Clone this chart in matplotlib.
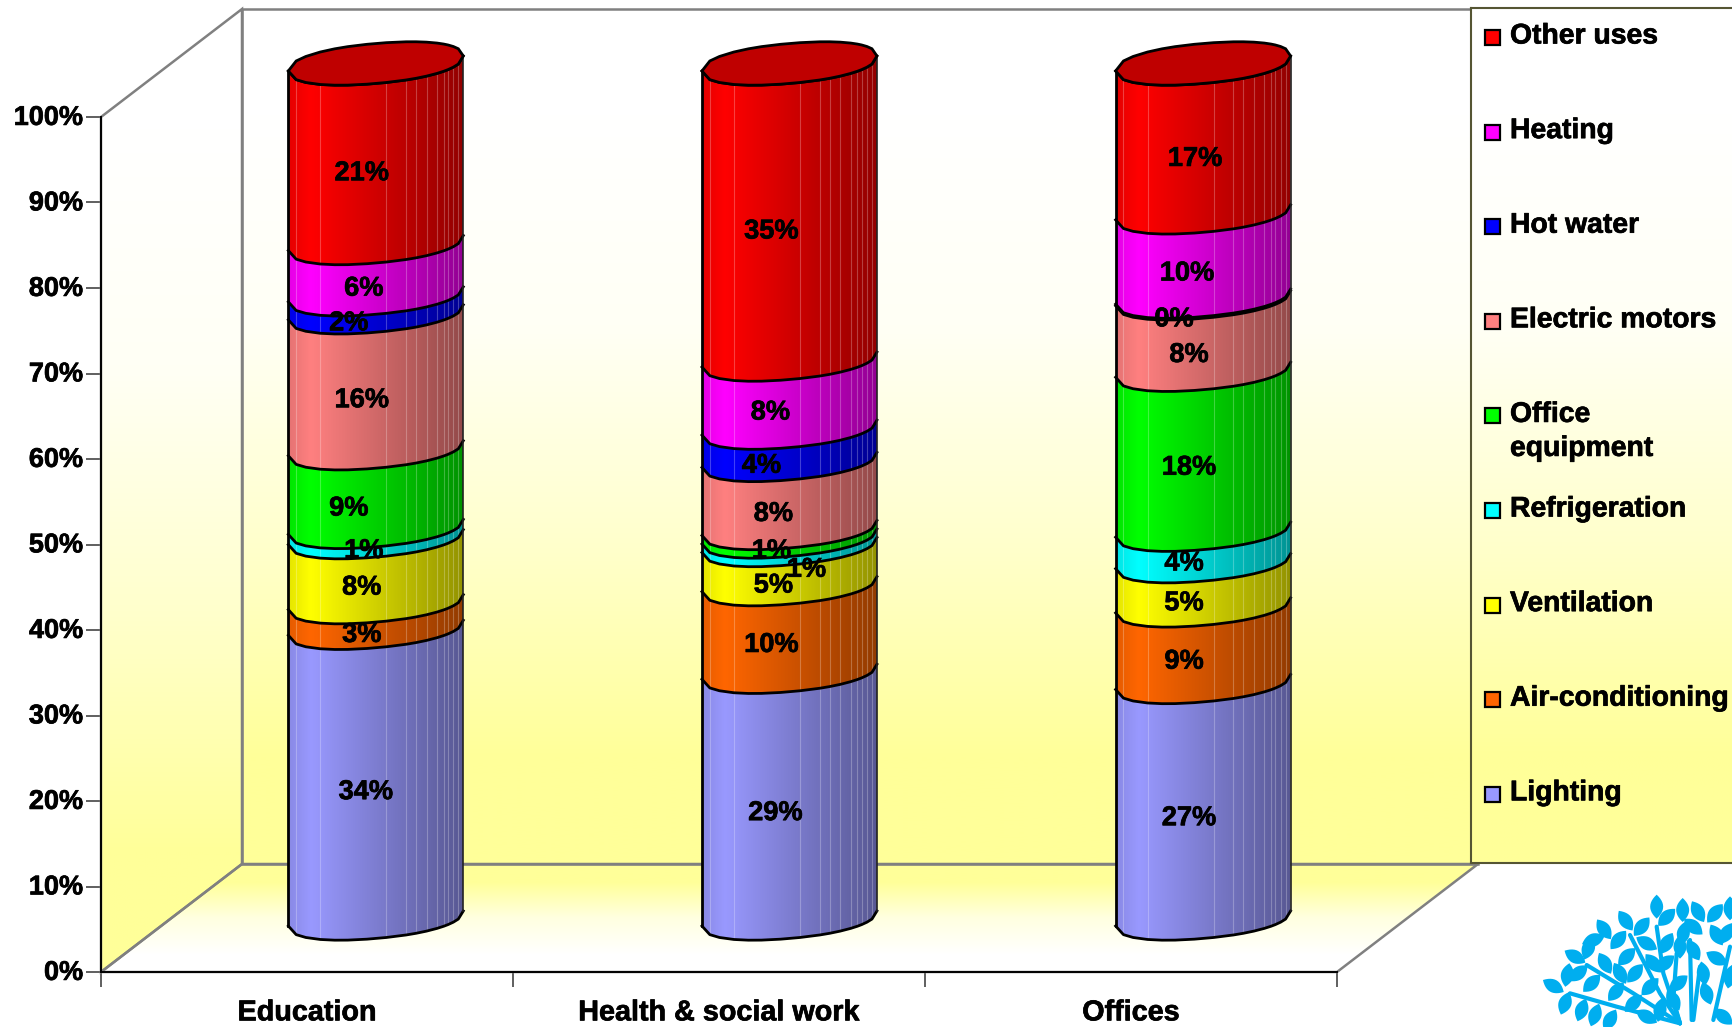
import numpy as np
import matplotlib
matplotlib.use("Agg")
import matplotlib.pyplot as plt
import matplotlib.patheffects as pe
from matplotlib.colors import to_rgb
from matplotlib.patches import Polygon, Rectangle
from matplotlib.transforms import ScaledTranslation

plt.rcParams["font.family"] = ["Liberation Sans", "DejaVu Sans"]
plt.rcParams["font.weight"] = "bold"

categories = ["Education", "Health & social work", "Offices"]
series = ["Lighting", "Air-conditioning", "Ventilation", "Refrigeration", "Office\nequipment",
          "Electric motors", "Hot water", "Heating", "Other uses"]
colors = ["#9999FF", "#FF6600", "#FFFF00", "#00FFFF", "#00FF00", "#FF8080", "#0000FF", "#FF00FF", "#FF0000"]

education = [34.0, 3.0, 7.6, 1.2, 9.2, 15.9, 2.1, 6.0, 21.0]
health = [29.0, 10.3, 4.6, 1.0, 1.0, 8.0, 3.8, 8.0, 34.8]
offices = [27.8, 9.0, 5.2, 3.7, 18.8, 8.4, 0.2, 9.9, 17.5]
education_labels = ["34%", "3%", "8%", "1%", "9%", "16%", "2%", "6%", "21%"]
health_labels = ["29%", "10%", "5%", "1%", "1%", "8%", "4%", "8%", "35%"]
offices_labels = ["27%", "9%", "5%", "4%", "18%", "8%", "0%", "10%", "17%"]
y_ticks = [0, 10, 20, 30, 40, 50, 60, 70, 80, 90, 100]

# label nudges in pixels, the original chart had them dragged by hand
label_dx = [[-10, -14, -14, -12, -27, -14, -27, -12, -14],
            [-14, -18, -16, 17, -18, -16, -28, -19, -18],
            [-14, -19, -19, -19, -14, -14, -29, -16, -8]]
label_dy = [[19, 20, 18, 19, 21, 20, 20, 20, 20],
            [18, 17, 21, 29, 19, 20, 22, 19, 20],
            [18, 18, 20, 18, 18, 21, 22, 19, 21]]

W, H = 1733, 1027
PX_X = 412.0  # pixels per category
PX_Y = 8.55  # pixels per percent
DEPTH_X = 141 / PX_X
DEPTH_Y = 108 / PX_Y
BAR_X = [0.667, 1.671, 2.675]
BAR_Y0 = 6.26
BAR_A = 87.5 / PX_X
BAR_C = 7.5 / PX_Y
BAR_D = 20 / PX_Y
ROUNDNESS = 2.2
OUTLINE = np.array([-1, -0.91, -0.8, -0.635, -0.47, -0.32, -0.1, 0.12, 0.346, 0.46, 0.58, 0.70,
                    0.776, 0.825, 0.886, 0.943, 1])
FACETS = np.array([-0.91, -0.635, 0.12, 0.346, 0.46, 0.58, 0.70, 0.776, 0.825, 0.886, 0.943])
PALE = np.array(to_rgb("#FFFFFF"))
YELLOW = np.array(to_rgb("#FFFF99"))
HEAVY = [pe.withStroke(linewidth=0.5, foreground="black")]

fig = plt.figure(figsize=(W / 100, H / 100), dpi=100, facecolor="white")
ax = fig.add_axes([101 / W, (H - 972) / H, 1236 / W, 855 / H], facecolor="none")


def gradient_fill(target, points, stops, horizontal=False, zorder=1):
    # stops run bottom to top (or left to right), clipped to the polygon
    points = np.array(points)
    stops = np.array(stops)
    img = stops[None, :, :] if horizontal else stops[:, None, :]
    im = target.imshow(img, origin="lower", aspect="auto", interpolation="bilinear", zorder=zorder,
                       extent=(points[:, 0].min(), points[:, 0].max(), points[:, 1].min(), points[:, 1].max()))
    patch = Polygon(points, closed=True, transform=target.transData, facecolor="none", edgecolor="none")
    im.set_clip_box(fig.bbox)
    im.set_clip_path(patch)


# walls and floor
wall_stops = [YELLOW, YELLOW * 0.5 + PALE * 0.5, PALE * 0.9 + YELLOW * 0.1, PALE]
back = [(DEPTH_X, DEPTH_Y), (3 + DEPTH_X, DEPTH_Y), (3 + DEPTH_X, 100 + DEPTH_Y), (DEPTH_X, 100 + DEPTH_Y)]
left = [(0, 0), (DEPTH_X, DEPTH_Y), (DEPTH_X, 100 + DEPTH_Y), (0, 100)]
floor = [(0, 0), (3, 0), (3 + DEPTH_X, DEPTH_Y), (DEPTH_X, DEPTH_Y)]
gradient_fill(ax, back, wall_stops)
gradient_fill(ax, left, wall_stops)
gradient_fill(ax, floor, [PALE, PALE * 0.7 + YELLOW * 0.3, YELLOW])
for shape in (back, left, floor):
    ax.add_patch(Polygon(shape, closed=True, facecolor="none", edgecolor="#808080", linewidth=1.8,
                         zorder=2, clip_on=False))


def bulge(f):
    return BAR_D * (1 - np.abs(f) ** ROUNDNESS) ** (1 / ROUNDNESS)


def front_curve(cx, y, f=OUTLINE):
    return cx + BAR_A * f, y + BAR_C * f - bulge(f)


def shade(color):
    base = np.array(to_rgb(color))
    f = np.linspace(-1, 1, 64)
    level = np.interp(f, [-1, -0.75, 1], [0.9, 1.0, 0.58])
    return base * level[:, None]


for cx, values, labels, dxs, dys in zip(BAR_X, [education, health, offices],
                                        [education_labels, health_labels, offices_labels],
                                        label_dx, label_dy):
    vals = np.array(values) / sum(values) * 100
    tops = np.cumsum(vals)
    bottoms = tops - vals
    x0, y_first = front_curve(cx, BAR_Y0)
    for i, (b, t) in enumerate(zip(bottoms, tops)):
        xs, yb = front_curve(cx, BAR_Y0 + b)
        _, yt = front_curve(cx, BAR_Y0 + t)
        outline = list(zip(xs, yt)) + list(zip(xs[::-1], yb[::-1]))
        gradient_fill(ax, outline, shade(colors[i]), horizontal=True, zorder=3)
        ax.plot(xs, yt, color="black", linewidth=2, zorder=5, clip_on=False)
    xs, y_top = front_curve(cx, BAR_Y0 + 100)
    # thin facet lines of the cylinder
    x_line, y_low = front_curve(cx, BAR_Y0, FACETS)
    _, y_high = front_curve(cx, BAR_Y0 + 100, FACETS)
    ax.vlines(x_line, y_low, y_high, color="white", alpha=0.25, linewidth=0.8, zorder=4, clip_on=False)
    ax.plot(x0, y_first, color="black", linewidth=2, zorder=5, clip_on=False)
    ax.plot([xs[0], xs[0]], [y_first[0], y_top[0]], color="black", linewidth=2, zorder=5, clip_on=False)
    ax.plot([xs[-1], xs[-1]], [y_first[-1], y_top[-1]], color="#222222", linewidth=1.2, zorder=5, clip_on=False)
    # the lid
    lid_back = BAR_Y0 + 100 + BAR_C * OUTLINE + bulge(OUTLINE)
    lid = list(zip(xs, y_top)) + list(zip(xs[::-1], lid_back[::-1]))
    ax.add_patch(Polygon(lid, closed=True, facecolor="#BF0000", edgecolor="black", linewidth=2,
                         zorder=6, clip_on=False))
    for b, t, text, dx, dy in zip(bottoms, tops, labels, dxs, dys):
        ax.annotate(text, (cx, BAR_Y0 + (b + t) / 2), xytext=(dx, -dy), textcoords="offset pixels",
                    ha="center", va="center", fontsize=19.6, fontweight="bold", color="black", zorder=7,
                    annotation_clip=False, path_effects=HEAVY)

ax.set_xlim(0, 3)
ax.set_ylim(0, 100)
for side in ("top", "right"):
    ax.spines[side].set_visible(False)
ax.spines["left"].set_linewidth(1.4)
ax.spines["bottom"].set_linewidth(1.4)
ax.spines["left"].set_zorder(2)
ax.spines["bottom"].set_zorder(2)
ax.set_yticks(y_ticks)
ax.set_yticklabels([f"{v}%" for v in y_ticks], fontsize=19.5, fontweight="bold", path_effects=HEAVY)
ax.tick_params(axis="y", length=10.8, width=1.2, pad=2, color="#444444")
for tick_label in ax.get_yticklabels():
    tick_label.set_transform(tick_label.get_transform() + ScaledTranslation(0, 1.5 / 72, fig.dpi_scale_trans))
ax.set_xticks([0, 1, 2, 3])
ax.set_xticklabels([])
ax.tick_params(axis="x", which="major", length=10.8, width=1.2, color="#444444")
ax.set_xticks([0.5, 1.5, 2.5], minor=True)
ax.set_xticklabels(categories, minor=True, fontsize=20.7, fontweight="bold", path_effects=HEAVY)
ax.tick_params(axis="x", which="minor", length=0, pad=19)

# legend box, laid out in pixels
leg = fig.add_axes([1471 / W, (H - 863) / H, (W - 1471) / W, 855 / H], facecolor="none")
gradient_fill(leg, [(0, 855), (262, 855), (262, 0), (0, 0)], wall_stops[::-1])
leg.set_xlim(0, 262)
leg.set_ylim(855, 0)
leg.set_xticks([])
leg.set_yticks([])
for side in ("top", "bottom", "left"):
    leg.spines[side].set_color("#555533")
    leg.spines[side].set_linewidth(1.5)
leg.spines["right"].set_visible(False)
for row, (name, color) in enumerate(zip(series[::-1], colors[::-1])):
    y_row = 29.5 + 94.6 * row
    leg.add_patch(Rectangle((14, y_row - 7.5), 15, 15, facecolor=color, edgecolor="black", linewidth=1.6))
    leg.text(39, y_row - 14, name, ha="left", va="top", fontsize=20.4, fontweight="bold",
             linespacing=1.4, color="black", path_effects=HEAVY)

# tree logo in the corner
tree = fig.add_axes([0, 0, 1, 1], facecolor="none")
tree.set_xlim(0, W)
tree.set_ylim(H, 0)
tree.axis("off")
BLUE = "#00AEEF"
leaves = [(590, 440, 90), (620, 472, 135), (668, 450, 90), (714, 455, 60), (765, 460, 130), (810, 445, 90),
          (497, 482, 55), (545, 500, 130), (432, 508, 55), (475, 540, 130), (345, 590, 30), (385, 565, 110),
          (280, 678, 30), (322, 645, 100), (355, 640, 140), (435, 610, 60), (500, 590, 135), (525, 640, 130),
          (395, 670, 135), (468, 695, 130), (315, 730, 110), (365, 750, 110), (405, 765, 110), (450, 780, 120),
          (520, 730, 135), (570, 680, 135), (655, 670, 140), (615, 610, 140), (560, 550, 30), (700, 570, 60),
          (770, 525, 60), (770, 595, 30), (740, 700, 70), (810, 650, 100), (620, 550, 120), (670, 520, 100),
          (700, 500, 40), (580, 610, 50), (640, 720, 60), (800, 520, 120), (560, 770, 30), (790, 770, 40),
          (400, 540, 160), (660, 560, 90), (730, 640, 80), (600, 750, 100), (480, 640, 60)]
branches = [[(330, 700), (470, 740), (660, 790)], [(380, 615), (520, 700), (660, 790)],
            [(510, 525), (600, 700), (660, 790)], [(590, 500), (610, 640), (660, 790)],
            [(650, 580), (640, 720), (660, 790)], [(690, 540), (695, 780)], [(810, 560), (760, 780)],
            [(720, 620), (700, 780)]]


def logo(x, y):
    return 1460 + x / 3, 760 + y / 3


t = np.linspace(-1, 1, 13)
for x, y, angle in leaves:
    # pointed leaf shape
    a = np.radians(angle)
    half = 12 * t
    side = 6.5 * (1 - t ** 2)
    px = np.r_[half, half[::-1]]
    py = np.r_[side, -side[::-1]]
    cx, cy = logo(x, y)
    tree.fill(cx + px * np.cos(a) - py * np.sin(a), cy + px * np.sin(a) + py * np.cos(a), color=BLUE, linewidth=0)
for branch in branches:
    xs, ys = zip(*[logo(x, y) for x, y in branch])
    tree.plot(xs, ys, color=BLUE, linewidth=3, solid_capstyle="round")
tree.set_xlim(0, W)
tree.set_ylim(H, 0)

fig.savefig("out.png", dpi=100)
